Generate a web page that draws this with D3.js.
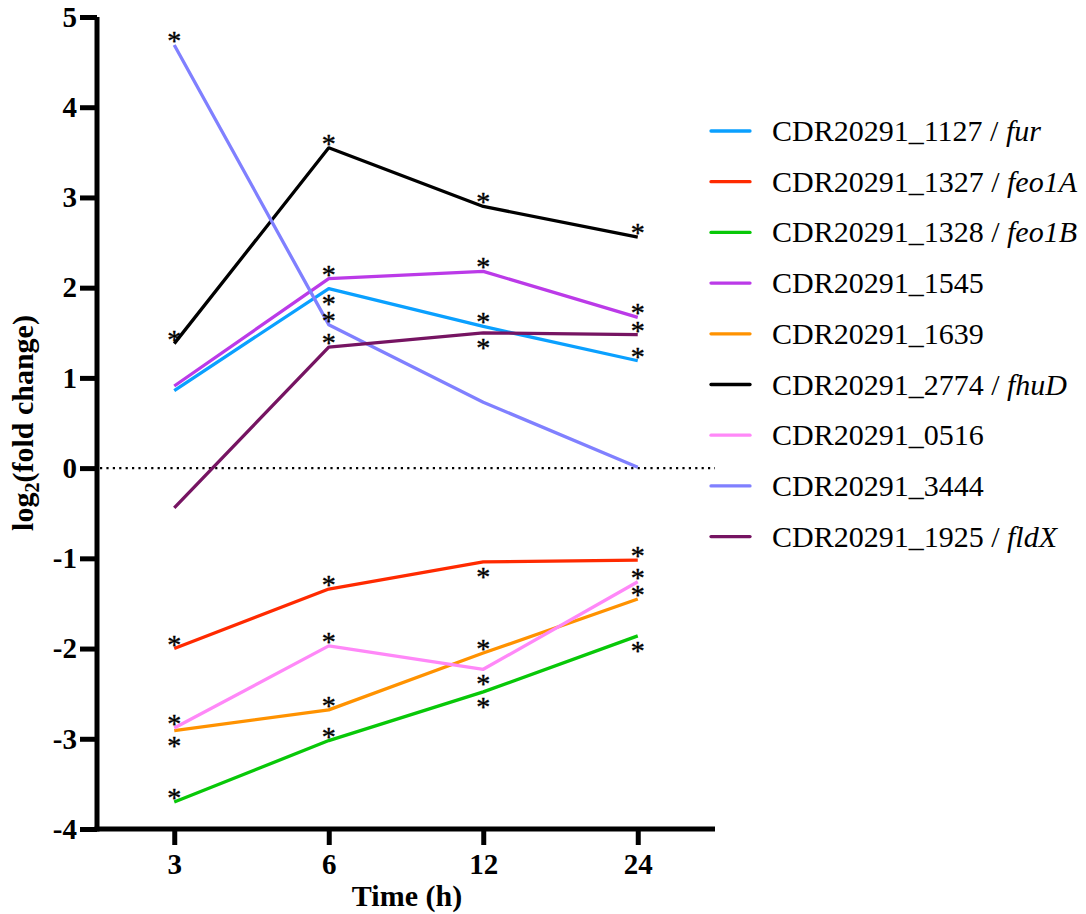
<!DOCTYPE html>
<html><head><meta charset="utf-8">
<script src="https://cdn.jsdelivr.net/npm/d3@7"></script>
<style>body{margin:0;background:#fff}svg{display:block}</style>
</head><body>
<svg id="c" width="1086" height="914"></svg>
<script>
const times = ["3", "6", "12", "24"];
const seriesIds = ["CDR20291_1127", "CDR20291_1327", "CDR20291_1328", "CDR20291_1545", "CDR20291_1639", "CDR20291_2774", "CDR20291_0516", "CDR20291_3444", "CDR20291_1925"];
const geneNames = ["fur", "feo1A", "feo1B", "", "", "fhuD", "", "", "fldX"];
const colors = ["#0aa0ff", "#ff2a00", "#08c808", "#bb3ae8", "#ff9200", "#000000", "#ff88f8", "#8080ff", "#761462"];
const v1127 = [0.86, 1.99, 1.57, 1.19];
const v1327 = [-2.00, -1.34, -1.04, -1.02];
const v1328 = [-3.70, -3.02, -2.48, -1.86];
const v1545 = [0.91, 2.10, 2.18, 1.67];
const v1639 = [-2.91, -2.68, -2.05, -1.45];
const v2774 = [1.38, 3.55, 2.90, 2.56];
const v0516 = [-2.88, -1.97, -2.23, -1.26];
const v3444 = [4.69, 1.59, 0.73, 0.01];
const v1925 = [-0.44, 1.34, 1.50, 1.48];
// significance markers: "a" = asterisk above point, "b" = below, "" = none
const s1127 = ["", "b", "a", "a"];
const s1327 = ["a", "a", "b", "a"];
const s1328 = ["a", "a", "b", "b"];
const s1545 = ["", "a", "a", "a"];
const s1639 = ["b", "a", "a", "a"];
const s2774 = ["a", "a", "a", "a"];
const s0516 = ["a", "a", "b", "a"];
const s3444 = ["a", "a", "", ""];
const s1925 = ["", "a", "b", "a"];
const yTicks = [-4, -3, -2, -1, 0, 1, 2, 3, 4, 5];

const values = [v1127, v1327, v1328, v1545, v1639, v2774, v0516, v3444, v1925];
const sig = [s1127, s1327, s1328, s1545, s1639, s2774, s0516, s3444, s1925];

const svg = d3.select("#c");
const x = d3.scalePoint().domain(times).range([97, 715]).padding(0.5);
const y = d3.scaleLinear().domain([-4, 5]).range([829, 17]);
const serif = "'Liberation Serif', 'DejaVu Serif', serif";

// zero line
svg.append("line").attr("x1", 100).attr("x2", 715).attr("y1", y(0)).attr("y2", y(0))
  .attr("stroke", "#000").attr("stroke-width", 2.2).attr("stroke-dasharray", "2.2,4.2");

// lines
const line = d3.line().x((d, i) => x(times[i])).y(d => y(d));
values.forEach((vals, k) => {
  svg.append("path").attr("d", line(vals)).attr("fill", "none")
    .attr("stroke", colors[k]).attr("stroke-width", 3.3).attr("stroke-linejoin", "round");
});

// asterisks
values.forEach((vals, k) => {
  vals.forEach((v, i) => {
    const s = sig[k][i];
    if (!s) return;
    const cy = y(v) + (s === "a" ? -9 : 10);
    svg.append("text").attr("x", x(times[i])).attr("y", cy + 14)
      .attr("text-anchor", "middle").attr("font-family", serif).attr("font-size", 28)
      .attr("fill", "#000").attr("stroke", "#000").attr("stroke-width", 0.4).text("*");
  });
});

// y axis
const yAxis = svg.append("g").attr("transform", "translate(97,0)")
  .call(d3.axisLeft(y).tickValues(yTicks).tickSize(17).tickPadding(3).tickFormat(d3.format("d")));
yAxis.select(".domain").attr("stroke-width", 5).attr("d", `M0,${y(5)}V${y(-4) + 2.5}`);
yAxis.selectAll(".tick line").attr("stroke-width", 5);
yAxis.selectAll(".tick text").attr("font-family", serif).attr("font-weight", "bold")
  .attr("font-size", 29).attr("fill", "#000").text(d => d < 0 ? "-" + Math.abs(d) : d);

// x axis
const xAxis = svg.append("g").attr("transform", `translate(0,${y(-4)})`)
  .call(d3.axisBottom(x).tickSize(16).tickPadding(8));
xAxis.select(".domain").attr("stroke-width", 5).attr("d", `M94.5,0H715`);
xAxis.selectAll(".tick line").attr("stroke-width", 5);
xAxis.selectAll(".tick text").attr("font-family", serif).attr("font-weight", "bold")
  .attr("font-size", 29).attr("fill", "#000");

// axis titles
svg.append("text").attr("x", 407).attr("y", 906).attr("text-anchor", "middle")
  .attr("font-family", serif).attr("font-weight", "bold").attr("font-size", 30).text("Time (h)");
const yl = svg.append("text").attr("transform", `translate(33,${y(0.5)}) rotate(-90)`)
  .attr("text-anchor", "middle").attr("font-family", serif).attr("font-weight", "bold").attr("font-size", 30);
yl.append("tspan").text("log");
yl.append("tspan").attr("font-size", 20).attr("dy", 6).text("2");
yl.append("tspan").attr("dy", -6).text("(fold change)");

// legend
const lg = svg.append("g");
seriesIds.forEach((id, k) => {
  const ly = 131 + k * 50.7;
  lg.append("line").attr("x1", 711).attr("x2", 750).attr("y1", ly).attr("y2", ly)
    .attr("stroke", colors[k]).attr("stroke-width", 3.3).attr("stroke-linecap", "round");
  const t = lg.append("text").attr("x", 772).attr("y", ly + 10)
    .attr("font-family", serif).attr("font-size", 30).attr("fill", "#000");
  t.append("tspan").text(id);
  if (geneNames[k]) {
    t.append("tspan").text(" / ");
    t.append("tspan").attr("font-style", "italic").text(geneNames[k]);
  }
});
</script>
</body></html>
